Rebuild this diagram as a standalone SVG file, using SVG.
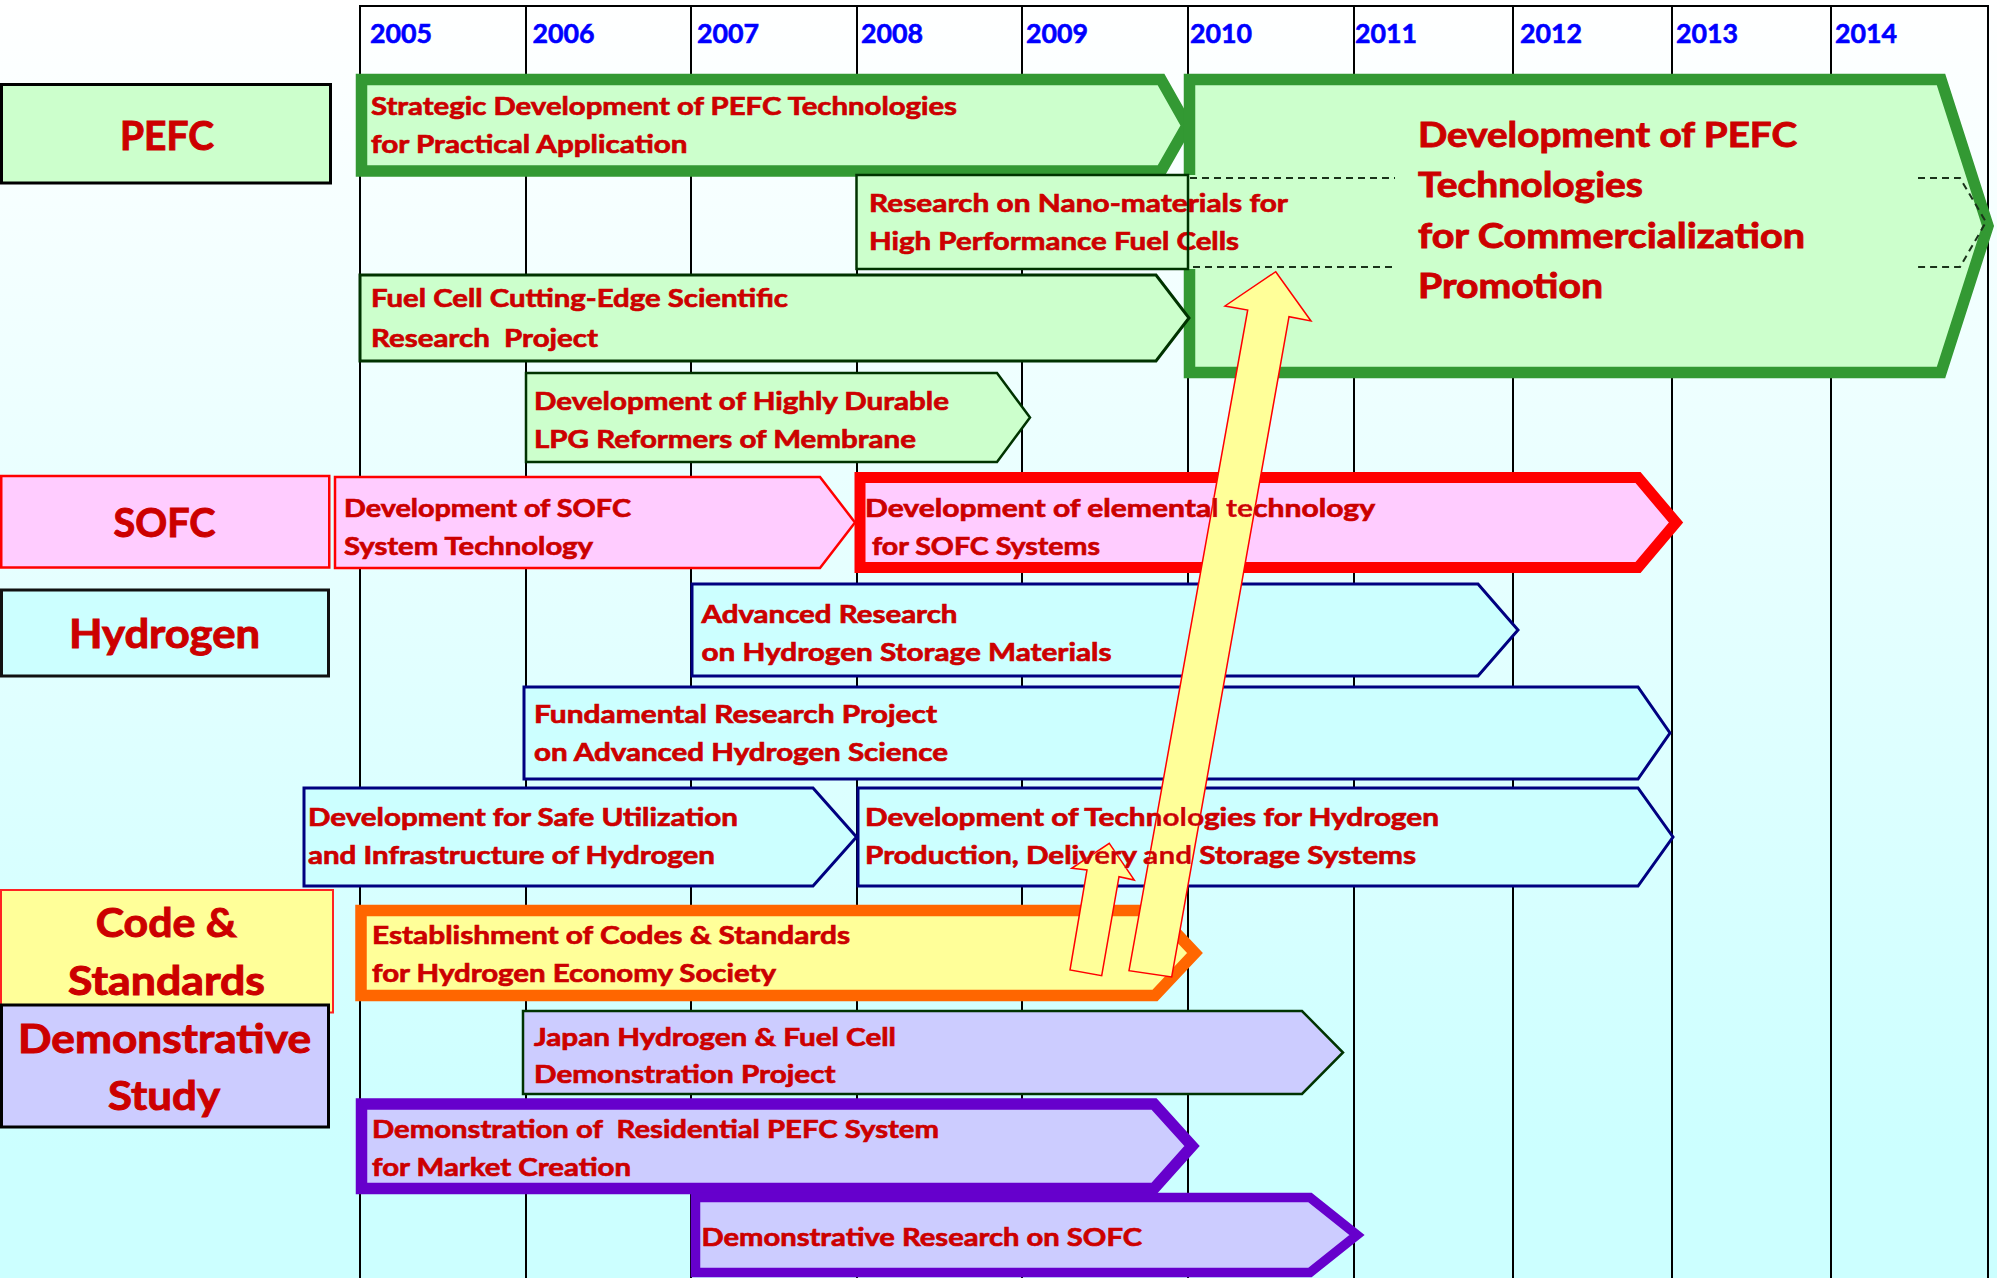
<svg xmlns="http://www.w3.org/2000/svg" xmlns:xlink="http://www.w3.org/1999/xlink" width="1997" height="1278" viewBox="0 0 1997 1278">
<style>
.f{font-family:Lato,"Liberation Sans",Arial,sans-serif;font-weight:700}
.t{font-size:25.5px;stroke-width:0.7px}
.yr{font-size:27px}
.big{font-size:35px;stroke-width:0.9px}
.cat{font-size:41px;stroke-width:1px}
.n{fill:#CC0000}
.n text{stroke:#CC0000}
#years text{stroke:#0000FF;stroke-width:0.6px}
.grid line{stroke:#000;stroke-width:2}
.gf{fill:#CCFFCC}
.pf{fill:#FFCCFF}
.cf{fill:#CCFFFF}
.yf{fill:#FFFF99}
.lf{fill:#CCCCFF}
.thk-g{stroke:#339933;stroke-width:11.5;stroke-linejoin:miter}
.thk-r{stroke:#FF0000;stroke-width:11;stroke-linejoin:miter}
.thk-o{stroke:#FF6600;stroke-width:11.5;stroke-linejoin:miter}
.thk-p{stroke:#6600CC;stroke-width:11.5;stroke-linejoin:miter}
.thn-g{stroke:#003300;stroke-width:2.5}
.thn-b{stroke:#000080;stroke-width:3}
.thn-r{stroke:#FF0000;stroke-width:2.5}
.blk{stroke:#000;stroke-width:3}
.dash{fill:none;stroke:#1A331A;stroke-width:2;stroke-dasharray:7 5}
.ya{fill:#FFFF99;stroke:#FF0000;stroke-width:1.5;stroke-linejoin:miter}
</style>
<defs>
<linearGradient id="bg" x1="0" y1="0" x2="0" y2="1">
<stop offset="0" stop-color="#FFFFFF"/>
<stop offset="0.9" stop-color="#CCFFFF"/>
<stop offset="1" stop-color="#CCFFFF"/>
</linearGradient>
<mask id="textcut" maskUnits="userSpaceOnUse" x="0" y="0" width="1997" height="1278">
<rect x="0" y="0" width="1997" height="1278" fill="#fff"/>
<use xlink:href="#t-elem-1" href="#t-elem-1" fill="#000"/>
<use xlink:href="#t-elem-2" href="#t-elem-2" fill="#000"/>
<use xlink:href="#t-prod-1" href="#t-prod-1" fill="#000"/>
<use xlink:href="#t-prod-2" href="#t-prod-2" fill="#000"/>
</mask>
</defs>
<rect x="0" y="0" width="1997" height="1278" fill="url(#bg)"/>

<g id="grid" class="grid">
<line x1="359" y1="6" x2="1989" y2="6"/>
<line x1="360" y1="6" x2="360" y2="1278"/>
<line x1="526" y1="6" x2="526" y2="1278"/>
<line x1="691" y1="6" x2="691" y2="1278"/>
<line x1="857" y1="6" x2="857" y2="1278"/>
<line x1="1022" y1="6" x2="1022" y2="1278"/>
<line x1="1188" y1="6" x2="1188" y2="1278"/>
<line x1="1354" y1="6" x2="1354" y2="1278"/>
<line x1="1513" y1="6" x2="1513" y2="1278"/>
<line x1="1672" y1="6" x2="1672" y2="1278"/>
<line x1="1831" y1="6" x2="1831" y2="1278"/>
<line x1="1988" y1="6" x2="1988" y2="1278"/>
</g>

<g id="years" class="f yr" fill="#0000FF">
<text x="370" y="43" textLength="62" lengthAdjust="spacingAndGlyphs">2005</text>
<text x="532.5" y="43" textLength="62" lengthAdjust="spacingAndGlyphs">2006</text>
<text x="697" y="43" textLength="62" lengthAdjust="spacingAndGlyphs">2007</text>
<text x="861" y="43" textLength="62" lengthAdjust="spacingAndGlyphs">2008</text>
<text x="1026" y="43" textLength="62" lengthAdjust="spacingAndGlyphs">2009</text>
<text x="1190" y="43" textLength="62" lengthAdjust="spacingAndGlyphs">2010</text>
<text x="1355" y="43" textLength="62" lengthAdjust="spacingAndGlyphs">2011</text>
<text x="1520" y="43" textLength="62" lengthAdjust="spacingAndGlyphs">2012</text>
<text x="1676" y="43" textLength="62" lengthAdjust="spacingAndGlyphs">2013</text>
<text x="1835" y="43" textLength="62" lengthAdjust="spacingAndGlyphs">2014</text>
</g>

<g id="categories">
<g id="cat-pefc" class="n">
<rect x="1.5" y="84.5" width="329" height="98.5" class="gf blk"/>
<text class="f cat" x="120" y="150" textLength="94" lengthAdjust="spacingAndGlyphs">PEFC</text>
</g>
<g id="cat-sofc" class="n">
<rect x="1.25" y="476" width="328" height="91.5" class="pf thn-r"/>
<text class="f cat" x="113.5" y="537" textLength="102" lengthAdjust="spacingAndGlyphs">SOFC</text>
</g>
<g id="cat-hydrogen" class="n">
<rect x="1.5" y="590" width="327" height="86" class="cf" stroke="#111" stroke-width="3"/>
<text class="f cat" x="69" y="648" textLength="191" lengthAdjust="spacingAndGlyphs">Hydrogen</text>
</g>
<g id="cat-codes" class="n">
<rect x="1" y="890" width="332" height="122.5" class="yf" stroke="#FF2222" stroke-width="2"/>
<text class="f cat" x="95.7" y="937" textLength="141" lengthAdjust="spacingAndGlyphs">Code &amp;</text>
<text class="f cat" x="68" y="995" textLength="197" lengthAdjust="spacingAndGlyphs">Standards</text>
</g>
<g id="cat-demo" class="n">
<rect x="1.5" y="1005" width="327" height="122" class="lf blk"/>
<text class="f cat" x="18" y="1053" textLength="293" lengthAdjust="spacingAndGlyphs">Demonstrative</text>
<text class="f cat" x="108" y="1110" textLength="112" lengthAdjust="spacingAndGlyphs">Study</text>
</g>
</g>

<g id="nodes">
<g id="strategic" class="n">
<polygon points="361.5,79.5 1161,79.5 1187,125.5 1161,171 361.5,171" class="gf thk-g"/>
<text class="f t" x="371" y="115" textLength="586" lengthAdjust="spacingAndGlyphs">Strategic Development of PEFC Technologies</text>
<text class="f t" x="371" y="153" textLength="316.5" lengthAdjust="spacingAndGlyphs">for Practical Application</text>
</g>
<g id="commercialization" class="n">
<polygon points="1189.5,79.5 1941,79.5 1988,226 1941,372.5 1189.5,372.5" class="gf thk-g"/>
<text class="f big" x="1418" y="147" textLength="379" lengthAdjust="spacingAndGlyphs">Development of PEFC</text>
<text class="f big" x="1418" y="197" textLength="225" lengthAdjust="spacingAndGlyphs">Technologies</text>
<text class="f big" x="1418" y="248" textLength="387" lengthAdjust="spacingAndGlyphs">for Commercialization</text>
<text class="f big" x="1418" y="298" textLength="185" lengthAdjust="spacingAndGlyphs">Promotion</text>
</g>
<g id="nano" class="n">
<rect x="856.5" y="175" width="340" height="94" class="gf"/>
<path d="M1190,178 H1395 M1918,178 H1960 L1986,222 L1960,267 H1918 M1392,267 H1190" class="dash"/>
<text class="f t" x="869" y="212" textLength="419" lengthAdjust="spacingAndGlyphs">Research on Nano-materials for</text>
<text class="f t" x="869" y="250" textLength="370" lengthAdjust="spacingAndGlyphs">High Performance Fuel Cells</text>
<rect x="856.5" y="175" width="331.5" height="94" fill="none" class="thn-g"/>
</g>
<g id="fuelcell" class="n">
<polygon points="360,275 1156,275 1189,318 1156,361 360,361" class="gf" stroke="#003300" stroke-width="3"/>
<text class="f t" x="371" y="307" textLength="417" lengthAdjust="spacingAndGlyphs">Fuel Cell Cutting-Edge Scientific</text>
<text class="f t" x="371" y="346.5" textLength="227" lengthAdjust="spacingAndGlyphs" xml:space="preserve">Research  Project</text>
</g>
<g id="lpg" class="n">
<polygon points="526,373 997,373 1030,417.5 997,462 526,462" class="gf thn-g"/>
<text class="f t" x="534" y="410" textLength="415" lengthAdjust="spacingAndGlyphs">Development of Highly Durable</text>
<text class="f t" x="534" y="448" textLength="382" lengthAdjust="spacingAndGlyphs">LPG Reformers of Membrane</text>
</g>
<g id="sofc-system" class="n">
<polygon points="335,477 820,477 855,522.5 820,568 335,568" class="pf thn-r"/>
<text class="f t" x="344" y="517" textLength="287" lengthAdjust="spacingAndGlyphs">Development of SOFC</text>
<text class="f t" x="344" y="555" textLength="249" lengthAdjust="spacingAndGlyphs">System Technology</text>
</g>
<g id="sofc-elemental" class="n">
<polygon points="860,477.5 1638,477.5 1676,522.5 1638,567.5 860,567.5" class="pf thk-r"/>
<text id="t-elem-1" class="f t" x="865" y="517" textLength="510" lengthAdjust="spacingAndGlyphs">Development of elemental technology</text>
<text id="t-elem-2" class="f t" x="872" y="555" textLength="228" lengthAdjust="spacingAndGlyphs">for SOFC Systems</text>
</g>
<g id="h2-storage" class="n">
<polygon points="692,584 1478,584 1518,630 1478,676 692,676" class="cf thn-b"/>
<text class="f t" x="701.5" y="623" textLength="256" lengthAdjust="spacingAndGlyphs">Advanced Research</text>
<text class="f t" x="701.5" y="661" textLength="410" lengthAdjust="spacingAndGlyphs">on Hydrogen Storage Materials</text>
</g>
<g id="h2-science" class="n">
<polygon points="524,687 1638,687 1670,733 1638,779 524,779" class="cf thn-b"/>
<text class="f t" x="534" y="723" textLength="403" lengthAdjust="spacingAndGlyphs">Fundamental Research Project</text>
<text class="f t" x="534" y="761" textLength="414" lengthAdjust="spacingAndGlyphs">on Advanced Hydrogen Science</text>
</g>
<g id="h2-safe" class="n">
<polygon points="304,788 813,788 856.5,837 813,886 304,886" class="cf thn-b"/>
<text class="f t" x="308" y="826" textLength="430" lengthAdjust="spacingAndGlyphs">Development for Safe Utilization</text>
<text class="f t" x="308" y="864" textLength="407" lengthAdjust="spacingAndGlyphs">and Infrastructure of Hydrogen</text>
</g>
<g id="h2-production" class="n">
<polygon points="858,788 1638,788 1673,837 1638,886 858,886" class="cf thn-b"/>
<text id="t-prod-1" class="f t" x="865" y="826" textLength="574" lengthAdjust="spacingAndGlyphs">Development of Technologies for Hydrogen</text>
<text id="t-prod-2" class="f t" x="865" y="864" textLength="551" lengthAdjust="spacingAndGlyphs">Production, Delivery and Storage Systems</text>
</g>
<g id="codes" class="n">
<polygon points="361,910.5 1155,910.5 1195,953 1155,995.5 361,995.5" class="yf thk-o"/>
<text class="f t" x="372" y="944" textLength="478" lengthAdjust="spacingAndGlyphs">Establishment of Codes &amp; Standards</text>
<text class="f t" x="372" y="982" textLength="404" lengthAdjust="spacingAndGlyphs">for Hydrogen Economy Society</text>
</g>
<g id="japan-demo" class="n">
<polygon points="523,1011 1302,1011 1343,1052.5 1302,1094 523,1094" class="lf thn-g"/>
<text class="f t" x="534" y="1046" textLength="362" lengthAdjust="spacingAndGlyphs">Japan Hydrogen &amp; Fuel Cell</text>
<text class="f t" x="534" y="1083" textLength="301.5" lengthAdjust="spacingAndGlyphs">Demonstration Project</text>
</g>
<g id="residential" class="n">
<polygon points="361.5,1104 1154,1104 1192,1146 1154,1188.5 361.5,1188.5" class="lf thk-p"/>
<text class="f t" x="372" y="1138" textLength="567" lengthAdjust="spacingAndGlyphs" xml:space="preserve">Demonstration of  Residential PEFC System</text>
<text class="f t" x="372" y="1176" textLength="259" lengthAdjust="spacingAndGlyphs">for Market Creation</text>
</g>
<g id="sofc-demo" class="n">
<polygon points="695.5,1197.5 1310,1197.5 1357,1235 1310,1272.5 695.5,1272.5" class="lf" stroke="#6600CC" stroke-width="9.5"/>
<text class="f t" x="701.5" y="1246" textLength="440.5" lengthAdjust="spacingAndGlyphs">Demonstrative Research on SOFC</text>
</g>
</g>

<g id="connectors" mask="url(#textcut)">
<polygon class="ya" points="1275.7,271.7 1311,321 1289,316.7 1171.7,977 1129,970.7 1247.7,310 1225,306"/>
<polygon class="ya" points="1109.3,843.3 1134.3,880 1119,876.7 1101.7,975.7 1070,970 1087,870 1071.7,868.3"/>
</g>
</svg>
